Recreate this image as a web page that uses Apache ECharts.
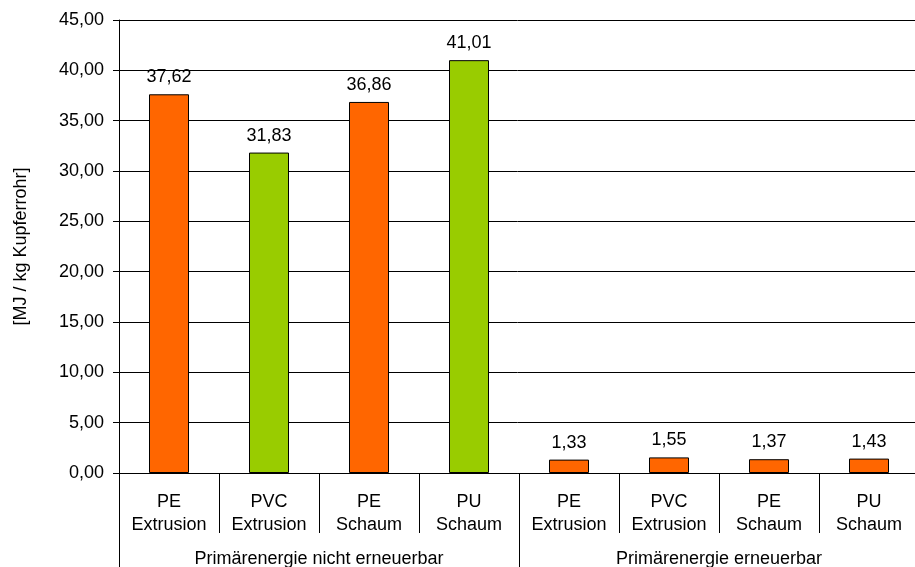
<!DOCTYPE html>
<html>
<head>
<meta charset="utf-8">
<script src="https://cdn.jsdelivr.net/npm/echarts@6/dist/echarts.min.js"></script>
<style>html,body{margin:0;padding:0;background:#fff;}#c{width:915px;height:567px;}</style>
</head>
<body>
<div id="c"></div>
<script>
var categories = ['PE\nExtrusion','PVC\nExtrusion','PE\nSchaum','PU\nSchaum','PE\nExtrusion','PVC\nExtrusion','PE\nSchaum','PU\nSchaum'];
var groups = ['Primärenergie nicht erneuerbar','Primärenergie erneuerbar'];
var values = [37.62, 31.83, 36.86, 41.01, 1.33, 1.55, 1.37, 1.43];
var barColors = ['#FF6600','#99CC00','#FF6600','#99CC00','#FF6600','#FF6600','#FF6600','#FF6600'];
var yAxisName = '[MJ / kg Kupferrohr]';

function fmt(v){ return Number(v).toFixed(2).replace('.', ','); }

var FONT = 'Liberation Sans, Arial, sans-serif';
var FS = 18;
var chart = echarts.init(document.getElementById('c'), null, {renderer:'canvas'});
chart.setOption({
  animation: false,
  backgroundColor: '#fff',
  grid: {left: 119, top: 20, width: 800, height: 453, containLabel: false, outerBoundsMode: 'none'},
  xAxis: [{
    type: 'category',
    data: categories,
    position: 'bottom',
    axisLine: {show: true, lineStyle: {color: '#000', width: 1}},
    axisTick: {show: true, alignWithLabel: false, interval: 0, length: 60, lineStyle: {color: '#000'}},
    axisLabel: {interval: 0, color: '#000', fontFamily: FONT, fontSize: FS, lineHeight: 23, margin: 18},
    splitLine: {show: false}
  }, {
    type: 'category',
    data: groups,
    position: 'bottom',
    axisLine: {show: false},
    axisTick: {show: true, interval: 0, length: 120, lineStyle: {color: '#000'}},
    axisLabel: {interval: 0, color: '#000', fontFamily: FONT, fontSize: FS, margin: 77},
    splitLine: {show: false}
  }],
  yAxis: {
    type: 'value',
    min: 0, max: 45, interval: 5,
    name: yAxisName,
    nameLocation: 'middle',
    nameRotate: 90,
    nameGap: 89,
    nameTextStyle: {color: '#000', fontFamily: FONT, fontSize: FS},
    axisLine: {show: true, lineStyle: {color: '#000', width: 1}},
    axisTick: {show: true, length: 6, lineStyle: {color: '#000'}},
    axisLabel: {color: '#000', fontFamily: FONT, fontSize: FS, margin: 15, formatter: fmt},
    splitLine: {show: true, lineStyle: {color: '#000', width: 1}}
  },
  series: [{
    type: 'bar',
    xAxisIndex: 0,
    barWidth: 40,
    data: values.map(function(v, i){ return {value: v, itemStyle: {color: barColors[i]}}; }),
    itemStyle: {borderColor: '#000', borderWidth: 1},
    label: {show: true, position: 'top', distance: 8, color: '#000', fontFamily: FONT, fontSize: FS, formatter: function(p){ return fmt(p.value); }}
  }]
});
</script>
</body>
</html>
